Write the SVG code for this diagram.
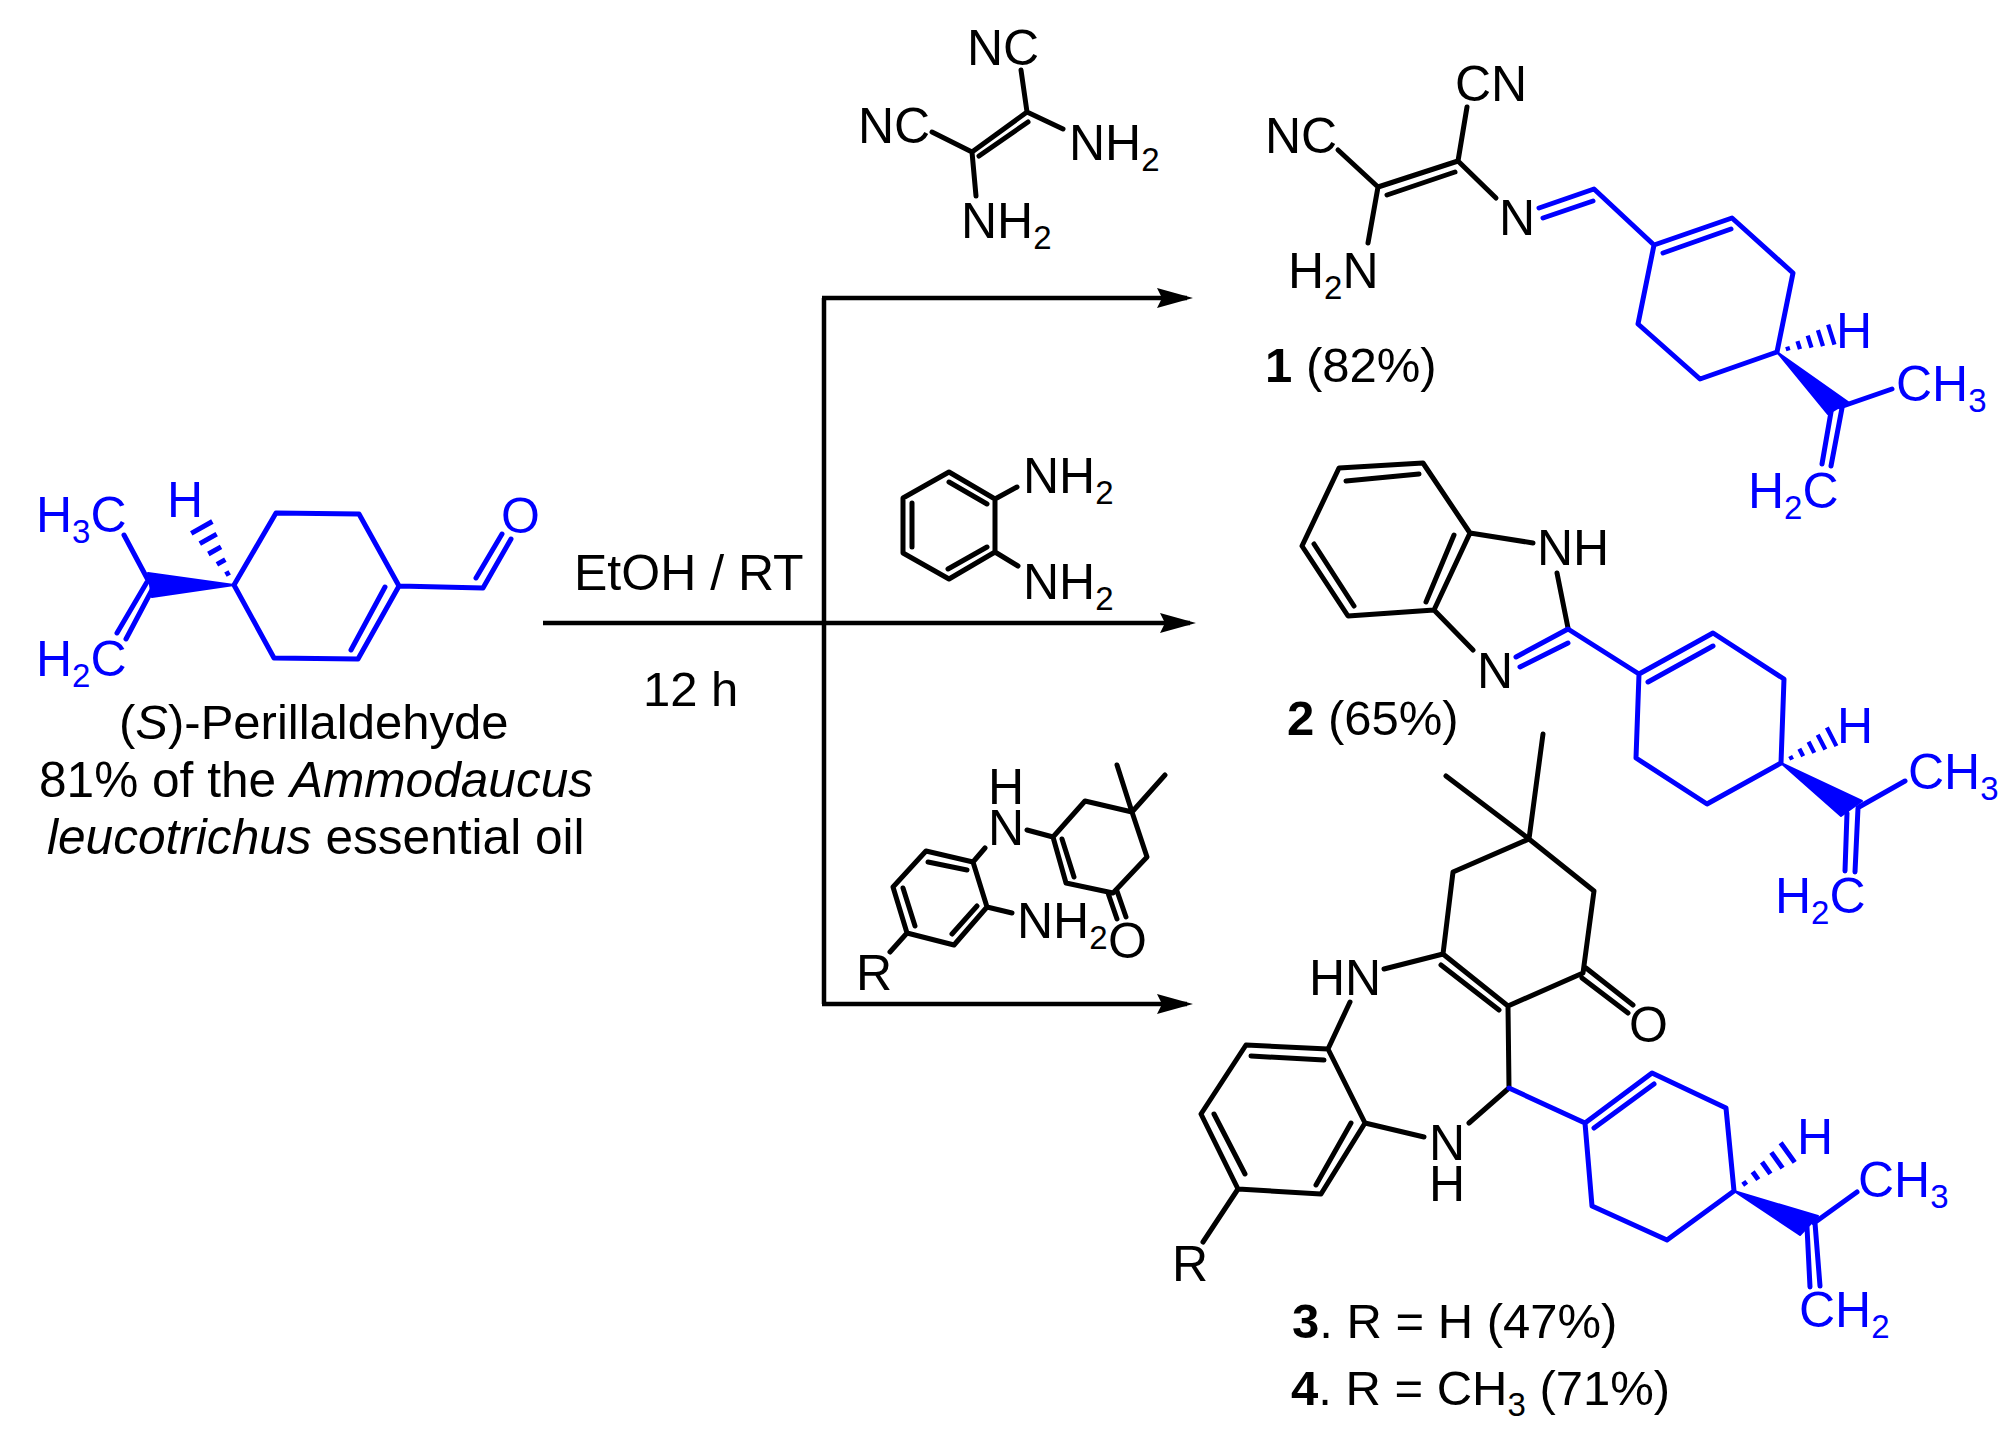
<svg xmlns="http://www.w3.org/2000/svg" width="2015" height="1434" viewBox="0 0 2015 1434">
<style>
text{font-family:"Liberation Sans",Arial,sans-serif;font-size:50px;fill:#000}
.blue text,text.blue{fill:#0000ff}
.s{font-size:33px}
.cap{font-size:49px}
.wide{font-size:49.6px}
.k{fill:none;stroke:#000;stroke-width:5;stroke-linecap:round;stroke-linejoin:round}
.u{fill:none;stroke:#0000ff;stroke-width:5;stroke-linecap:round;stroke-linejoin:round}
.w{fill:#0000ff;stroke:#0000ff;stroke-width:2;stroke-linejoin:round}
.a{fill:none;stroke:#000;stroke-width:4.5}
</style>
<defs>
<marker id="head" markerUnits="userSpaceOnUse" markerWidth="40" markerHeight="24" viewBox="0 -12 40 24" refX="30" refY="0" orient="auto"><path d="M0 -10L36 0L0 10L5 0Z" fill="#000"/></marker>
<path id="hash" d="M12 -2.2V2.2M24 -4.4V4.4M36 -6.6V6.6M48 -8.8V8.8M60 -11V11" fill="none" stroke="#0000ff" stroke-width="4.5"/>
</defs>
<g id="connectors">
<path class="a" d="M543 623H1190" marker-end="url(#head)"/>
<path class="a" d="M824 1004V298"/>
<path class="a" d="M822 298H1187" marker-end="url(#head)"/>
<path class="a" d="M822 1004H1187" marker-end="url(#head)"/>
</g>
<g id="conditions">
<text x="574" y="590">EtOH / RT</text>
<text class="cap" x="643" y="706">12 h</text>
</g>
<g id="perillaldehyde" class="blue">
<path class="u" d="M234 585L276 513L359 514L399 586L358 659L274 658ZM385 587L351 650M399 586L483 588L511 539M476 578L502 534M148 580L124 535M147 582L117 633M153 588L126 639"/>
<polygon class="w" points="234,585 148,573 152,597"/>
<use href="#hash" transform="translate(234,585) rotate(-119.2) scale(1.1)"/>
<text x="501" y="533">O</text>
<text x="167" y="517">H</text>
<text x="36" y="532">H<tspan class="s" dy="11">3</tspan><tspan dy="-11">C</tspan></text>
<text x="36" y="676">H<tspan class="s" dy="11">2</tspan><tspan dy="-11">C</tspan></text>
</g>
<g id="perillaldehyde-caption">
<text class="cap" x="119" y="739">(<tspan font-style="italic">S</tspan>)-Perillaldehyde</text>
<text class="wide" x="39" y="797">81% of the <tspan font-style="italic">Ammodaucus</tspan></text>
<text class="wide" x="47" y="854"><tspan font-style="italic">leucotrichus</tspan> essential oil</text>
</g>
<g id="reagent-1">
<path class="k" d="M972 152L1027 112M979 156L1028 122M1027 112L1021 70M972 152L932 132M1027 112L1063 129M972 152L976 196"/>
<text x="967" y="65">NC</text>
<text x="858" y="143">NC</text>
<text x="1069" y="160">NH<tspan class="s" dy="11">2</tspan></text>
<text x="961" y="238">NH<tspan class="s" dy="11">2</tspan></text>
</g>
<g id="reagent-2">
<path class="k" d="M949 472L995 499V552L949 579L903 553V498ZM949 482L987 504M948 569L987 547M912 503V547M995 499L1017 487M995 552L1018 566"/>
<text x="1023" y="493">NH<tspan class="s" dy="11">2</tspan></text>
<text x="1023" y="599">NH<tspan class="s" dy="11">2</tspan></text>
</g>
<g id="reagent-3">
<path class="k" d="M926 851L973 862L987 907L954 945L907 933L893 887ZM928 862L967 870M977 906L952 934M903 888L915 926M907 933L890 952M973 862L985 848M987 907L1012 913M1027 830L1053 837M1053 837L1085 801L1132 812L1147 857L1113 893L1066 883ZM1062 839L1074 877M1132 812L1117 765M1132 812L1165 775M1108 893L1117 919M1117 891L1126 917"/>
<text x="988" y="804">H</text>
<text x="988" y="845">N</text>
<text x="1017" y="938">NH<tspan class="s" dy="11">2</tspan></text>
<text x="1108" y="958">O</text>
<text x="856" y="990">R</text>
</g>
<g id="product-1">
<path class="k" d="M1378 187L1458 161M1387 195L1455 172M1378 187L1338 150M1458 161L1467 107M1458 161L1496 198M1378 187L1368 243"/>
<text x="1265" y="153">NC</text>
<text x="1455" y="101">CN</text>
<text x="1499" y="235">N</text>
<text x="1288" y="288">H<tspan class="s" dy="11">2</tspan><tspan dy="-11">N</tspan></text>
<text class="cap" x="1265" y="382"><tspan font-weight="bold">1</tspan> (82%)</text>
<g class="blue">
<path class="u" d="M1539 208L1594 189L1654 245M1543 218L1593 201M1654 245L1732 218L1793 273L1777 352L1700 379L1638 324ZM1663 253L1731 229M1840 407L1892 389M1831 412L1822 464M1842 408L1831 466"/>
<polygon class="w" points="1777,352 1828,414 1848,402"/>
<use href="#hash" transform="translate(1777,352) rotate(-17.7) scale(.95)"/>
<text x="1836" y="348">H</text>
<text x="1896" y="401">CH<tspan class="s" dy="11">3</tspan></text>
<text x="1748" y="508">H<tspan class="s" dy="11">2</tspan><tspan dy="-11">C</tspan></text>
</g>
</g>
<g id="product-2">
<path class="k" d="M1339 468L1423 463L1470 533L1434 610L1348 616L1302 546ZM1346 481L1419 474M1314 544L1354 606M1454 535L1426 602M1470 533L1533 543M1557 573L1568 628M1434 610L1473 650"/>
<text x="1537" y="565">NH</text>
<text x="1477" y="688">N</text>
<text class="cap" x="1287" y="735"><tspan font-weight="bold">2</tspan> (65%)</text>
<g class="blue">
<path class="u" d="M1516 657L1568 629L1639 674M1520 667L1568 643M1639 674L1713 633L1784 679L1781 763L1707 804L1636 758ZM1648 682L1713 646M1859 807L1905 781M1847 813L1845 871M1858 808L1855 872"/>
<polygon class="w" points="1781,763 1841,816 1862,801"/>
<use href="#hash" transform="translate(1781,763) rotate(-27.3) scale(.95)"/>
<text x="1837" y="743">H</text>
<text x="1908" y="789">CH<tspan class="s" dy="11">3</tspan></text>
<text x="1775" y="913">H<tspan class="s" dy="11">2</tspan><tspan dy="-11">C</tspan></text>
</g>
</g>
<g id="product-3-4">
<path class="k" d="M1529 839L1543 734M1529 839L1446 776M1529 839L1453 872L1443 954L1508 1006L1583 973L1594 891ZM1441 965L1499 1010M1586 968L1633 1005M1582 978L1628 1013M1443 954L1384 969M1350 1002L1328 1049L1246 1045L1201 1114L1238 1189L1321 1194L1365 1123L1328 1049M1251 1056L1324 1060M1214 1114L1245 1174M1351 1123L1316 1185M1238 1189L1203 1242M1365 1123L1424 1137M1508 1006L1509 1088L1469 1123"/>
<text x="1629" y="1042">O</text>
<text x="1309" y="995">HN</text>
<text x="1429" y="1160">N</text>
<text x="1429" y="1201">H</text>
<text x="1172" y="1281">R</text>
<text class="cap" x="1292" y="1338"><tspan font-weight="bold">3</tspan>. R = H (47%)</text>
<text class="cap" x="1291" y="1405"><tspan font-weight="bold">4</tspan>. R = CH<tspan class="s" dy="11">3</tspan><tspan dy="-11"> (71%)</tspan></text>
<g class="blue">
<path class="u" d="M1509 1088L1585 1123L1652 1073L1726 1108L1734 1191L1667 1240L1592 1206L1585 1123M1594 1128L1654 1084M1814 1223L1857 1192M1807 1227L1810 1287M1815 1223L1820 1286"/>
<polygon class="w" points="1734,1191 1800,1235 1818,1216"/>
<use href="#hash" transform="translate(1734,1191) rotate(-35.6) scale(1.1)"/>
<text x="1797" y="1154">H</text>
<text x="1858" y="1197">CH<tspan class="s" dy="11">3</tspan></text>
<text x="1799" y="1327">CH<tspan class="s" dy="11">2</tspan></text>
</g>
</g>
</svg>
